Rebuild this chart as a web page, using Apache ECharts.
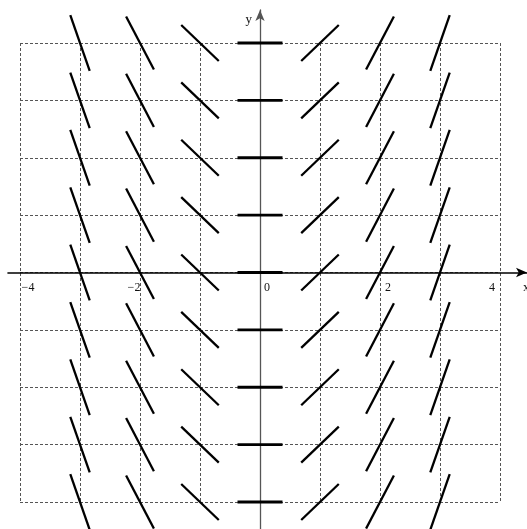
<!DOCTYPE html>
<html>
<head>
<meta charset="utf-8">
<script src="https://cdn.jsdelivr.net/npm/echarts@6/dist/echarts.min.js"></script>
<style>html,body{margin:0;padding:0;background:#fff}#c{width:527px;height:529px}</style>
</head>
<body>
<div id="c"></div>
<script>
// ---- data ----
const columnsX = [-3, -2, -1, 0, 1, 2, 3];      // x positions of the slope marks
const rowsY = [-4, -3, -2, -1, 0, 1, 2, 3, 4];  // y positions of the slope marks
const columnSlopes = [-3, -2, -1, 0, 1, 2, 3];  // slope of the marks in each column
const xTickLabels = [-4, -2, 0, 2, 4];

// ---- styles / layout ----
const segLengthPx = {0: 45, 1: 52, 2: 60, 3: 59};
const labelShift = {'-4': 8, '-2': -6, '0': 7, '2': 8, '4': -8};
const H = 529, zeroY = 272.5;

const marks = [];
columnsX.forEach(function (x, i) {
  rowsY.forEach(function (y) { marks.push([x, y, columnSlopes[i]]); });
});

const chart = echarts.init(document.getElementById('c'), null, {renderer: 'canvas'});
const gridLine = {show: true, lineStyle: {color: '#555', width: 1, type: [3, 2]}};

const rich = {};
Object.keys(labelShift).forEach(function (k, idx) {
  const s = labelShift[k];
  rich['k' + idx] = s >= 0 ? {padding: [0, 0, 0, 2 * s]} : {padding: [0, -2 * s, 0, 0]};
});

chart.setOption({
  animation: false,
  backgroundColor: '#fff',
  grid: [
    {left: 20, right: 27, top: 43, bottom: 27, containLabel: false, outerBoundsMode: 'none'},
    {left: 8, right: 0, top: 10, bottom: 0, containLabel: false, outerBoundsMode: 'none'}
  ],
  xAxis: [
    {type: 'value', gridIndex: 0, min: -4, max: 4, interval: 1,
     axisLine: {show: false}, axisTick: {show: false}, axisLabel: {show: false},
     splitLine: gridLine},
    {type: 'value', gridIndex: 1, min: -4.2, max: 4.45, position: 'bottom',
     offset: -(H - zeroY),
     axisLine: {show: true, onZero: false, symbol: ['none', 'arrow'], symbolSize: [7, 11],
                lineStyle: {color: '#000', width: 1.6}},
     axisTick: {show: false}, splitLine: {show: false},
     axisLabel: {show: true, customValues: xTickLabels, margin: 9, color: '#111',
                 fontFamily: 'Liberation Serif', fontSize: 12, hideOverlap: false,
                 formatter: function (v) {
                   const key = String(v);
                   const idx = Object.keys(labelShift).indexOf(key);
                   const txt = (v < 0 ? '\u2212' + Math.abs(v) : String(v));
                   return idx >= 0 ? '{k' + idx + '|' + txt + '}' : txt;
                 },
                 rich: rich},
     name: 'x', nameLocation: 'end', nameGap: -4,
     nameTextStyle: {fontFamily: 'Liberation Serif', fontSize: 13, color: '#111',
                     align: 'left', verticalAlign: 'top', padding: [9, 0, 0, 0]}}
  ],
  yAxis: [
    {type: 'value', gridIndex: 0, min: -4, max: 4, interval: 1,
     axisLine: {show: false}, axisTick: {show: false}, axisLabel: {show: false},
     splitLine: gridLine},
    {type: 'value', gridIndex: 1, min: -4.47, max: 4.575,
     axisLine: {show: true, onZero: true, symbol: ['none', 'arrow'], symbolSize: [7, 11],
                lineStyle: {color: '#555', width: 1.3}},
     axisTick: {show: false}, axisLabel: {show: false}, splitLine: {show: false},
     name: 'y', nameLocation: 'end', nameGap: -10,
     nameTextStyle: {fontFamily: 'Liberation Serif', fontSize: 13, color: '#111',
                     align: 'right', verticalAlign: 'middle', padding: [0, 8, 0, 0]}}
  ],
  series: [{
    type: 'custom',
    xAxisIndex: 0, yAxisIndex: 0,
    clip: false,
    data: marks,
    renderItem: function (params, api) {
      const x = api.value(0), y = api.value(1), m = api.value(2);
      const c = api.coord([x, y]);
      const sx = api.size([1, 0])[0], sy = api.size([0, 1])[1];
      let dx = sx, dy = -m * sy;
      const n = Math.sqrt(dx * dx + dy * dy);
      const half = segLengthPx[Math.abs(m)] / 2;
      dx = dx / n * half; dy = dy / n * half;
      return {
        type: 'line',
        shape: {x1: c[0] - dx, y1: c[1] - dy, x2: c[0] + dx, y2: c[1] + dy},
        style: {stroke: '#000', lineWidth: m === 0 ? 2.8 : 2.3, lineCap: 'butt'}
      };
    }
  }]
});
</script>
</body>
</html>
